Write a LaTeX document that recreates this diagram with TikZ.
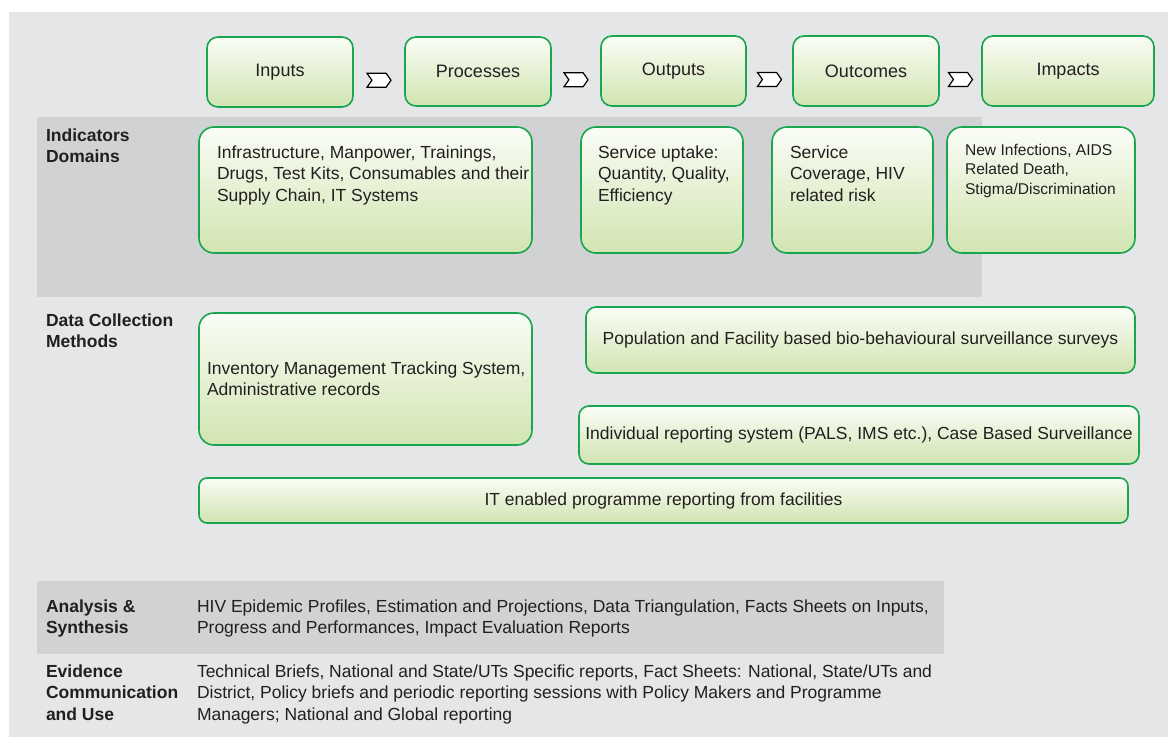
\documentclass[tikz,border=0pt]{standalone}
\usepackage{fontspec}
\setmainfont{Liberation Sans}
\usetikzlibrary{shapes.symbols,calc}
\definecolor{bggray}{HTML}{E5E6E8}
\definecolor{bandgray}{HTML}{D1D2D4}
\definecolor{bordergreen}{HTML}{1AA551}
\definecolor{gtop}{HTML}{FAFDF6}
\definecolor{gbot}{HTML}{D1E4B1}
\definecolor{txt}{HTML}{231F20}
\begin{document}
\begin{tikzpicture}[x=1pt,y=-1pt,
  gbox/.style={draw=bordergreen, line width=1.6pt, rounded corners=15pt,
    top color=gtop, bottom color=gbot, inner sep=0pt, outer sep=0pt,
    anchor=north west, text=txt,
    font=\fontsize{17.5}{21.5}\selectfont},
  hbox/.style={gbox, rounded corners=11pt, font=\fontsize{18}{21.5}\selectfont},
  sbox/.style={gbox, rounded corners=10pt},
  btxt/.style={anchor=north west, inner sep=0pt, outer sep=0pt, align=left,
    text=txt, font=\fontsize{17.5}{21.5}\selectfont},
  lab/.style={btxt, font=\fontsize{17.5}{21.8}\selectfont\bfseries},
  chev/.style={signal, signal to=east, signal from=west, signal pointer angle=110,
    draw=black, fill=white, line width=1.2pt, minimum width=24pt,
    minimum height=14pt, inner sep=0pt}]
\useasboundingbox (0,0) rectangle (1168,740);
\fill[white] (0,0) rectangle (1168,740);
\fill[bggray] (9,12) rectangle (1168,737);
\fill[bandgray] (37,117) rectangle (982,297);
\fill[bandgray] (37,581) rectangle (944,654);

% header row
\node[hbox, minimum width=146pt, minimum height=70pt] (inputs) at (207,37) {Inputs};
\node[hbox, minimum width=146pt, minimum height=69pt] (processes) at (405,37) {Processes};
\node[hbox, minimum width=145pt, minimum height=70pt] (outputs) at (601,36) {Outputs};
\node[hbox, minimum width=146pt, minimum height=70pt] (outcomes) at (793,36) {Outcomes};
\node[hbox, minimum width=172pt, minimum height=70pt] (impacts) at (982,36) {Impacts};

\node[chev] (c1) at ($(inputs.east)!.5!(processes.west)+(0,8.5)$) {};
\node[chev] (c2) at ($(processes.east)!.5!(outputs.west)+(0,8.5)$) {};
\node[chev] (c3) at ($(outputs.east)!.5!(outcomes.west)+(0,8.5)$) {};
\node[chev] (c4) at ($(outcomes.east)!.5!(impacts.west)+(0,8.5)$) {};

% indicators domains
\node[lab] (lind) at (46,128.5) {Indicators\\Domains};
\node[gbox, minimum width=333pt, minimum height=126pt] (infra) at (199,127) {};
\node[btxt] (tinfra) at (217,145.5) {Infrastructure, Manpower, Trainings,\\Drugs, Test Kits, Consumables and their\\Supply Chain, IT Systems};
\node[gbox, minimum width=162pt, minimum height=126pt] (uptake) at (581,127) {};
\node[btxt] (tuptake) at (598,145.5) {Service uptake:\\Quantity, Quality,\\Efficiency};
\node[gbox, minimum width=161pt, minimum height=126pt] (coverage) at (772,127) {};
\node[btxt] (tcoverage) at (790,145.5) {Service\\Coverage, HIV\\related risk};
\node[gbox, minimum width=188pt, minimum height=126pt] (newinf) at (947,127) {};
\node[btxt, font=\fontsize{15.6}{19.5}\selectfont] (tnewinf) at (965,144) {New Infections, AIDS\\Related Death,\\Stigma/Discrimination};

% data collection methods
\node[lab] (ldata) at (46,313.5) {Data Collection\\Methods};
\node[gbox, minimum width=333pt, minimum height=132pt] (inventory) at (199,313) {};
\node[btxt] (tinventory) at (207,361.5) {Inventory Management Tracking System,\\Administrative records};
\node[sbox, minimum width=549pt, minimum height=66pt] (population) at (586,307) {Population and Facility based bio-behavioural surveillance surveys};
\node[sbox, minimum width=560pt, minimum height=58pt] (individual) at (579,406) {Individual reporting system (PALS, IMS etc.), Case Based Surveillance};
\node[sbox, rounded corners=8pt, minimum width=929pt, minimum height=45pt] (itenabled) at (199,478) {IT enabled programme reporting from facilities};

% analysis & evidence
\node[lab] (lanalysis) at (46,599.5) {Analysis \&\\Synthesis};
\node[btxt] (tanalysis) at (197,599.5) {HIV Epidemic Profiles, Estimation and Projections, Data Triangulation, Facts Sheets on Inputs,\\Progress and Performances, Impact Evaluation Reports};
\node[lab] (levidence) at (46,664.5) {Evidence\\Communication\\and Use};
\node[btxt] (tevidence) at (197,664.5) {Technical Briefs, National and State/UTs Specific reports, Fact Sheets: National, State/UTs and\\District, Policy briefs and periodic reporting sessions with Policy Makers and Programme\\Managers; National and Global reporting};
\end{tikzpicture}
\end{document}
